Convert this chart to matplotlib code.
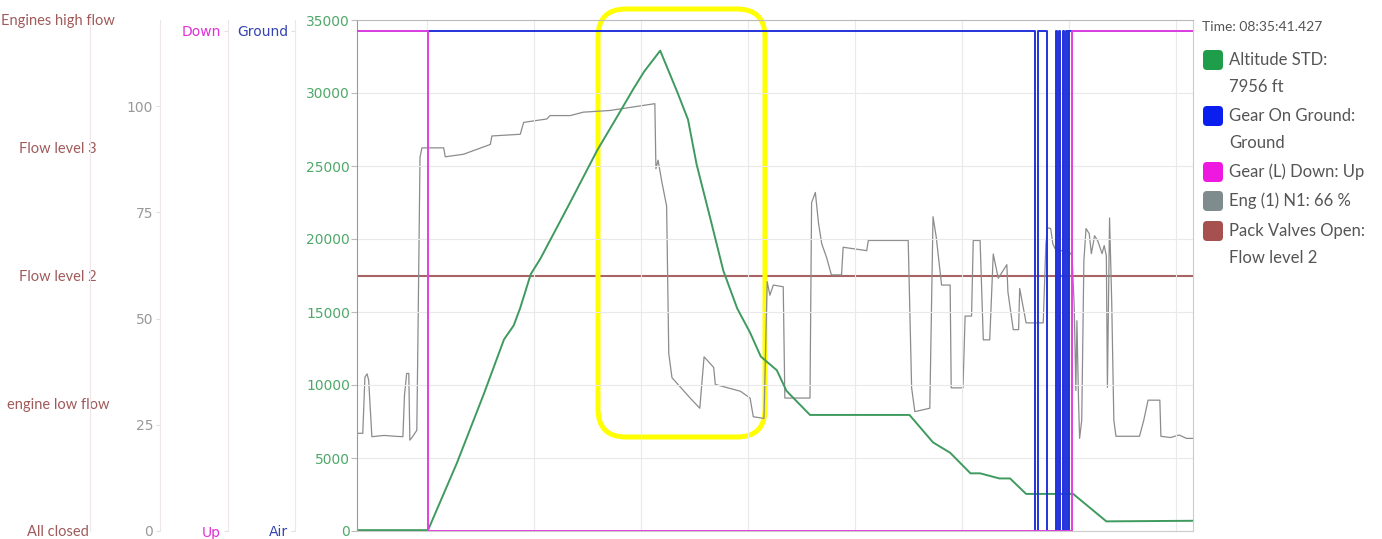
import matplotlib
matplotlib.use("Agg")
import matplotlib.pyplot as plt
from matplotlib.patches import FancyBboxPatch

# time axis in minutes (0 = take-off)
alt_t = [-6.54, 0.1, 2.8, 5.3, 7.2, 8.1, 8.7, 9.7, 10.6, 13.4, 15.9, 17.8, 19.3, 20.3,
         21.8, 23.4, 24.4, 25.2, 26.5, 27.7, 29.0, 30.2, 31.2, 32.7, 33.6, 35.8, 45.1,
         47.3, 48.9, 50.8, 51.7, 53.5, 54.5, 56.0, 60.4, 63.5, 71.6]
alt_ft = [60, 60, 4660, 9360, 13120, 14070, 15240, 17590, 18650, 22530, 26060, 28410,
          30290, 31470, 32900, 30060, 28180, 25120, 21360, 17830, 15240, 13590, 11950,
          11010, 9600, 7950, 7950, 6070, 5360, 3950, 3950, 3600, 3600, 2540, 2540, 660, 700]

n1_t = [-6.54, -6.0, -5.8, -5.6, -5.45, -5.15, -4.0, -3.0, -2.25, -2.1,
        -1.9, -1.7, -1.6, -1.4, -0.95, -0.85, -0.65, -0.47, 1.56, 1.71,
        3.43, 3.74, 5.92, 6.07, 8.72, 9.04, 11.2, 11.5, 13.4, 14.6,
        17.1, 20.2, 21.2, 21.3, 21.4, 21.6, 21.96, 22.4, 22.6, 22.9,
        24.6, 25.5, 25.9, 26.8, 26.95, 29.3, 30.2, 30.5, 31.5, 31.8,
        32.05, 32.37, 33.3, 33.45, 35.8, 35.95, 36.3, 36.6, 36.9, 37.35,
        37.8, 38.75, 38.9, 41.1, 41.25, 44.98, 45.3, 45.6, 47.0, 47.3,
        47.6, 48.1, 48.9, 49.0, 50.1, 50.3, 50.9, 51.06, 51.7, 52.0,
        52.6, 52.93, 53.4, 54.2, 54.3, 54.8, 55.3, 55.4, 55.7, 56.0,
        57.6, 57.85, 58.0, 58.3, 58.5, 58.7, 59.3, 60.1, 60.3, 60.5,
        60.65, 60.75, 60.9, 61.0, 61.2, 61.4, 61.6, 61.9, 62.1, 62.4,
        62.7, 63.1, 63.3, 63.5, 63.6, 63.8, 64.0, 64.2, 64.4, 66.6,
        67.0, 67.4, 68.5, 68.6, 69.5, 70.3, 71.0, 71.6]
n1_pct = [23.0, 23.0, 36.2, 37.0, 35.5, 22.2, 22.5, 22.3, 22.2, 32.0,
          37.1, 37.1, 21.4, 22.0, 23.7, 44.0, 88.0, 90.2, 90.2, 88.1,
          88.7, 89.0, 91.0, 93.0, 93.4, 96.2, 97.0, 97.8, 97.8, 98.6,
          99.0, 100.2, 100.6, 100.6, 85.3, 87.3, 82.1, 76.5, 41.8, 36.1,
          31.3, 28.9, 41.0, 38.5, 34.5, 32.9, 31.3, 26.9, 26.5, 58.7,
          55.5, 57.9, 57.5, 31.3, 31.3, 77.3, 79.7, 72.4, 67.6, 64.4,
          60.3, 60.3, 66.8, 66.0, 68.4, 68.4, 33.7, 28.1, 28.9, 74.0,
          69.2, 57.9, 57.9, 33.7, 33.7, 50.6, 50.6, 68.4, 68.4, 45.0,
          45.0, 65.2, 59.5, 62.7, 56.3, 47.4, 47.4, 57.1, 53.1, 49.0,
          49.0, 67.6, 71.4, 71.2, 67.6, 66.5, 66.0, 65.5, 64.8, 52.6,
          33.1, 49.5, 30.8, 21.8, 26.1, 63.6, 71.2, 70.0, 65.3, 69.5,
          68.3, 65.3, 67.2, 64.8, 33.8, 73.7, 54.2, 26.1, 22.3, 22.3,
          26.1, 30.8, 30.8, 22.3, 22.0, 22.6, 21.8, 21.8]

gnd_t = [-6.54, 56.82, 57.10, 57.94, 58.79, 58.93, 59.07, 59.16, 59.44, 59.58, 59.72,
         59.91, 60.05, 71.6]
gnd_v = [1, 0, 1, 0, 1, 0, 1, 0, 1, 0, 1, 0, 1, 1]

down_t = [-6.54, 0.1, 60.28, 71.6]
down_v = [1, 0, 1, 1]

pack_t = [-6.54, 71.6]
pack_v = [2, 2]

pack_labels = ["All closed", "engine low flow", "Flow level 2", "Flow level 3", "Engines high flow"]
alt_ticks = [0, 5000, 10000, 15000, 20000, 25000, 30000, 35000]
n1_ticks = [0, 25, 50, 75, 100]

legend_items = [("Altitude STD:", "7956 ft", "#1e9e4a"),
                ("Gear On Ground:", "Ground", "#0a1ef0"),
                ("Gear (L) Down: Up", None, "#ee18e0"),
                ("Eng (1) N1: 66 %", None, "#7f8c8d"),
                ("Pack Valves Open:", "Flow level 2", "#a65050")]

narrow = ["Lato", "DejaVu Sans"]
W, H = 1382, 539
fig = plt.figure(figsize=(W / 100, H / 100), dpi=100)
rect = [357 / W, 1 - 531 / H, (1193 - 357) / W, (531 - 20) / H]

ax = fig.add_axes(rect)
ax_pack = ax.twinx()
ax_n1 = ax.twinx()
ax_gnd = ax.twinx()
ax_down = ax.twinx()

for i, a in enumerate([ax_pack, ax_n1, ax, ax_gnd, ax_down]):
    a.set_zorder(i + 1)
    a.patch.set_visible(False)

# main altitude axis
ax.set_xlim(-6.54, 71.6)
ax.set_ylim(0, 35000)
ax.set_xticks(range(0, 71, 10))
ax.tick_params(axis="x", length=0, labelbottom=False)
ax.set_yticks(alt_ticks)
ax.set_yticklabels([str(v) for v in alt_ticks])
ax.tick_params(axis="y", length=4, width=0.8, color="#bbbbbb", pad=1,
               labelcolor="#4fa86a", labelsize=10)
ax.grid(True, color="#e9e9e9", lw=0.8)
ax.spines["left"].set_color("#999999")
ax.spines["top"].set_color("#bbbbbb")
ax.spines["right"].set_color("#cccccc")
ax.spines["bottom"].set_color("#cccccc")
ax.plot(alt_t, alt_ft, color="#3f9a5f", lw=1.4)

def side_axis(a, px_out, ylim, ticks, labels, color):
    a.set_ylim(*ylim)
    a.yaxis.set_ticks_position("left")
    a.yaxis.set_label_position("left")
    for s in ["right", "top", "bottom"]:
        a.spines[s].set_visible(False)
    a.spines["left"].set_position(("outward", px_out * 0.72))
    a.spines["left"].set_color("#eee6ea")
    a.set_yticks(ticks)
    a.set_yticklabels(labels)
    a.tick_params(axis="y", length=3, color="#e6dde2", labelcolor=color, labelsize=10, pad=2)

side_axis(ax_gnd, 62, (0, 1.022), [0, 1], ["Air", "Ground"], "#3344b0")
side_axis(ax_down, 129, (0, 1.022), [0, 1], ["Up", "Down"], "#e030d8")
side_axis(ax_n1, 197, (0, 120.3), n1_ticks, [str(v) for v in n1_ticks], "#999999")
side_axis(ax_pack, 267, (0, 4), range(5), pack_labels, "#a05a5a")
for lab in ax_pack.get_yticklabels():
    lab.set_horizontalalignment("center")
    lab.set_fontfamily(narrow)
    lab.set_fontsize(10.5)
ax_pack.tick_params(axis="y", pad=23, length=0)

ax_pack.plot(pack_t, pack_v, color="#a86464", lw=1.5)
ax_n1.plot(n1_t, n1_pct, color="#8c8c8c", lw=0.9)
ax_gnd.plot(gnd_t, gnd_v, color="#2233dd", lw=1.4, drawstyle="steps-post")
ax_down.plot(down_t, down_v, color="#e040e0", lw=1.4, drawstyle="steps-post")

# highlight box
inch = fig.dpi_scale_trans
fig.patches.append(FancyBboxPatch((598 / 100, (H - 437) / 100), 167 / 100, 428 / 100,
                                  boxstyle="round,pad=0,rounding_size=0.28",
                                  fill=False, ec="#ffff00", lw=3.6, transform=inch))

# legend panel
fig.text(1202 / 100, (H - 27) / 100, "Time: 08:35:41.427", transform=inch,
         fontsize=10, family=narrow, color="#555555", va="center")
rows = [60, 116, 172, 201, 231]
for (line1, line2, col), y in zip(legend_items, rows):
    fig.patches.append(FancyBboxPatch((1203 / 100, (H - y - 10) / 100), 0.2, 0.2,
                                      boxstyle="round,pad=0,rounding_size=0.04",
                                      fc=col, ec="none", transform=inch))
    fig.text(1229 / 100, (H - y) / 100, line1, transform=inch, fontsize=12,
             family=narrow, color="#555555", va="center")
    if line2:
        fig.text(1229 / 100, (H - y - 27) / 100, line2, transform=inch, fontsize=12,
                 family=narrow, color="#555555", va="center")

fig.savefig("out.png", dpi=100)
